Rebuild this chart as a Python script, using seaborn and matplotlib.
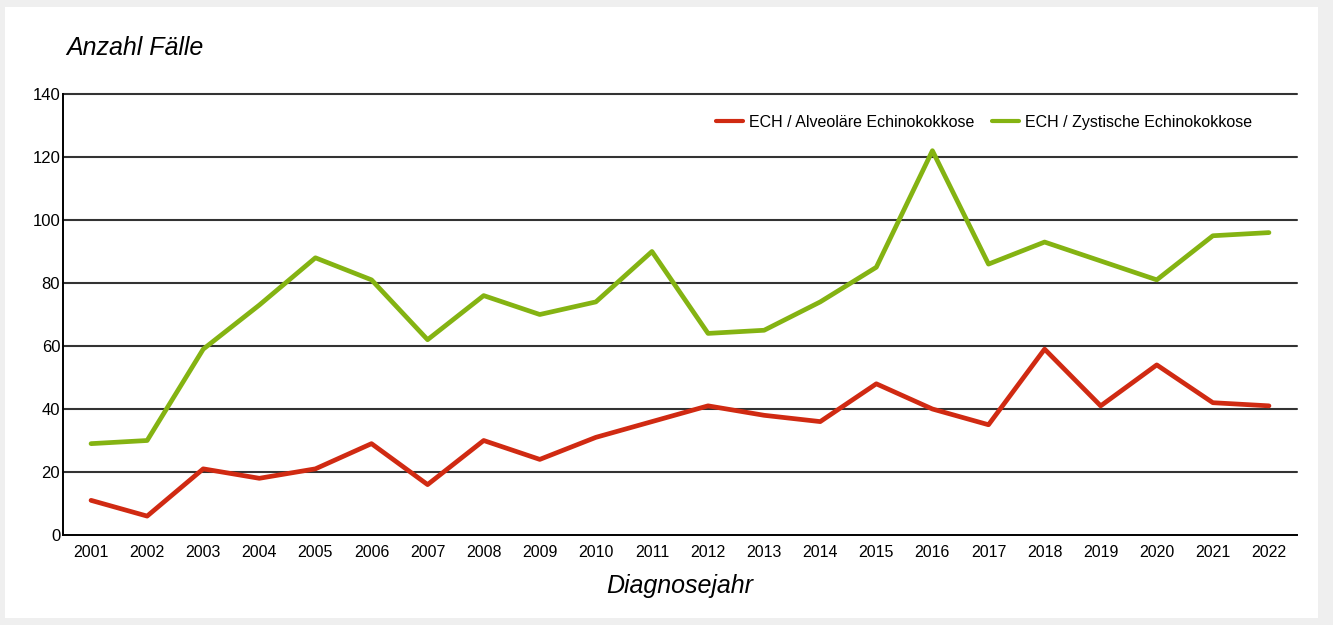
import numpy as np
import pandas as pd
import matplotlib
matplotlib.use('Agg')
import matplotlib.pyplot as plt
import seaborn as sns
from matplotlib.patches import Rectangle

years = [str(y) for y in range(2001, 2023)]
alveolar = [11, 6, 21, 18, 21, 29, 16, 30, 24, 31, 36, 41, 38, 36, 48, 40, 35, 59, 41, 54, 42, 41]
zystisch = [29, 30, 59, 73, 88, 81, 62, 76, 70, 74, 90, 64, 65, 74, 85, 122, 86, 93, 87, 81, 95, 96]
series_names = ['ECH / Alveoläre Echinokokkose', 'ECH / Zystische Echinokokkose']
y_ticks = [0, 20, 40, 60, 80, 100, 120, 140]

df = pd.DataFrame({'Jahr': years * 2,
                   'Fälle': alveolar + zystisch,
                   'Serie': [series_names[0]] * len(years) + [series_names[1]] * len(years)})

sns.set_style('white')
plt.rcParams['font.family'] = ['Liberation Sans', 'DejaVu Sans']
plt.rcParams['text.color'] = 'black'
plt.rcParams['xtick.color'] = 'black'
plt.rcParams['ytick.color'] = 'black'

fig = plt.figure(figsize=(13.33, 6.25), dpi=100, facecolor='#efefef')
# white panel behind everything
fig.patches.append(Rectangle((5 / 1333, 7 / 625), 1313 / 1333, 611 / 625,
                             transform=fig.transFigure, facecolor='white',
                             edgecolor='none', zorder=-5))

ax = fig.add_axes([63 / 1333, 1 - 535 / 625, 1234 / 1333, 441 / 625])
ax.set_zorder(2)
ax.patch.set_alpha(0)

x = np.arange(len(years))
palette = {series_names[0]: '#d02a12', series_names[1]: '#84b312'}
sns.lineplot(data=df, x='Jahr', y='Fälle', hue='Serie', palette=palette,
             linewidth=3.4, ax=ax, sort=False, zorder=3)

ax.set_xlim(-0.5, len(years) - 0.5)
ax.set_ylim(0, 140)
ax.set_yticks(y_ticks)
ax.set_yticklabels([str(t) for t in y_ticks], fontsize=12)
ax.tick_params(axis='y', length=0, pad=2)
for t in y_ticks[1:]:
    ax.axhline(t, color='#333333', linewidth=1.5, zorder=1, clip_on=False)

# categorical ticks at cell boundaries, labels centred
ax.set_xticks(x)
ax.set_xticklabels(years, fontsize=11.5)
ax.set_xticks(np.arange(-0.5, len(years)), minor=True)
ax.tick_params(axis='x', which='major', length=0, pad=7)
ax.tick_params(axis='x', which='minor', length=5, width=1.2, color='black', direction='out')

for s in ['top', 'right']:
    ax.spines[s].set_visible(False)
ax.spines['left'].set_color('black')
ax.spines['left'].set_linewidth(1.4)
ax.spines['bottom'].set_color('black')
ax.spines['bottom'].set_linewidth(1.4)

ax.set_xlabel('')
ax.set_ylabel('')
fig.text(66 / 1333, 1 - 48 / 625, 'Anzahl Fälle', fontsize=18, style='italic', va='center', ha='left')
fig.text(680 / 1333, 1 - 586 / 625, 'Diagnosejahr', fontsize=18, style='italic', va='center', ha='center')

leg = ax.legend(loc='upper right', bbox_to_anchor=(0.975, 0.985), ncol=2, frameon=False,
                fontsize=11.5, handlelength=1.7, columnspacing=1.1, handletextpad=0.35)
for line in leg.get_lines():
    line.set_linewidth(3)

plt.savefig('out.png', dpi=100, facecolor=fig.get_facecolor())
